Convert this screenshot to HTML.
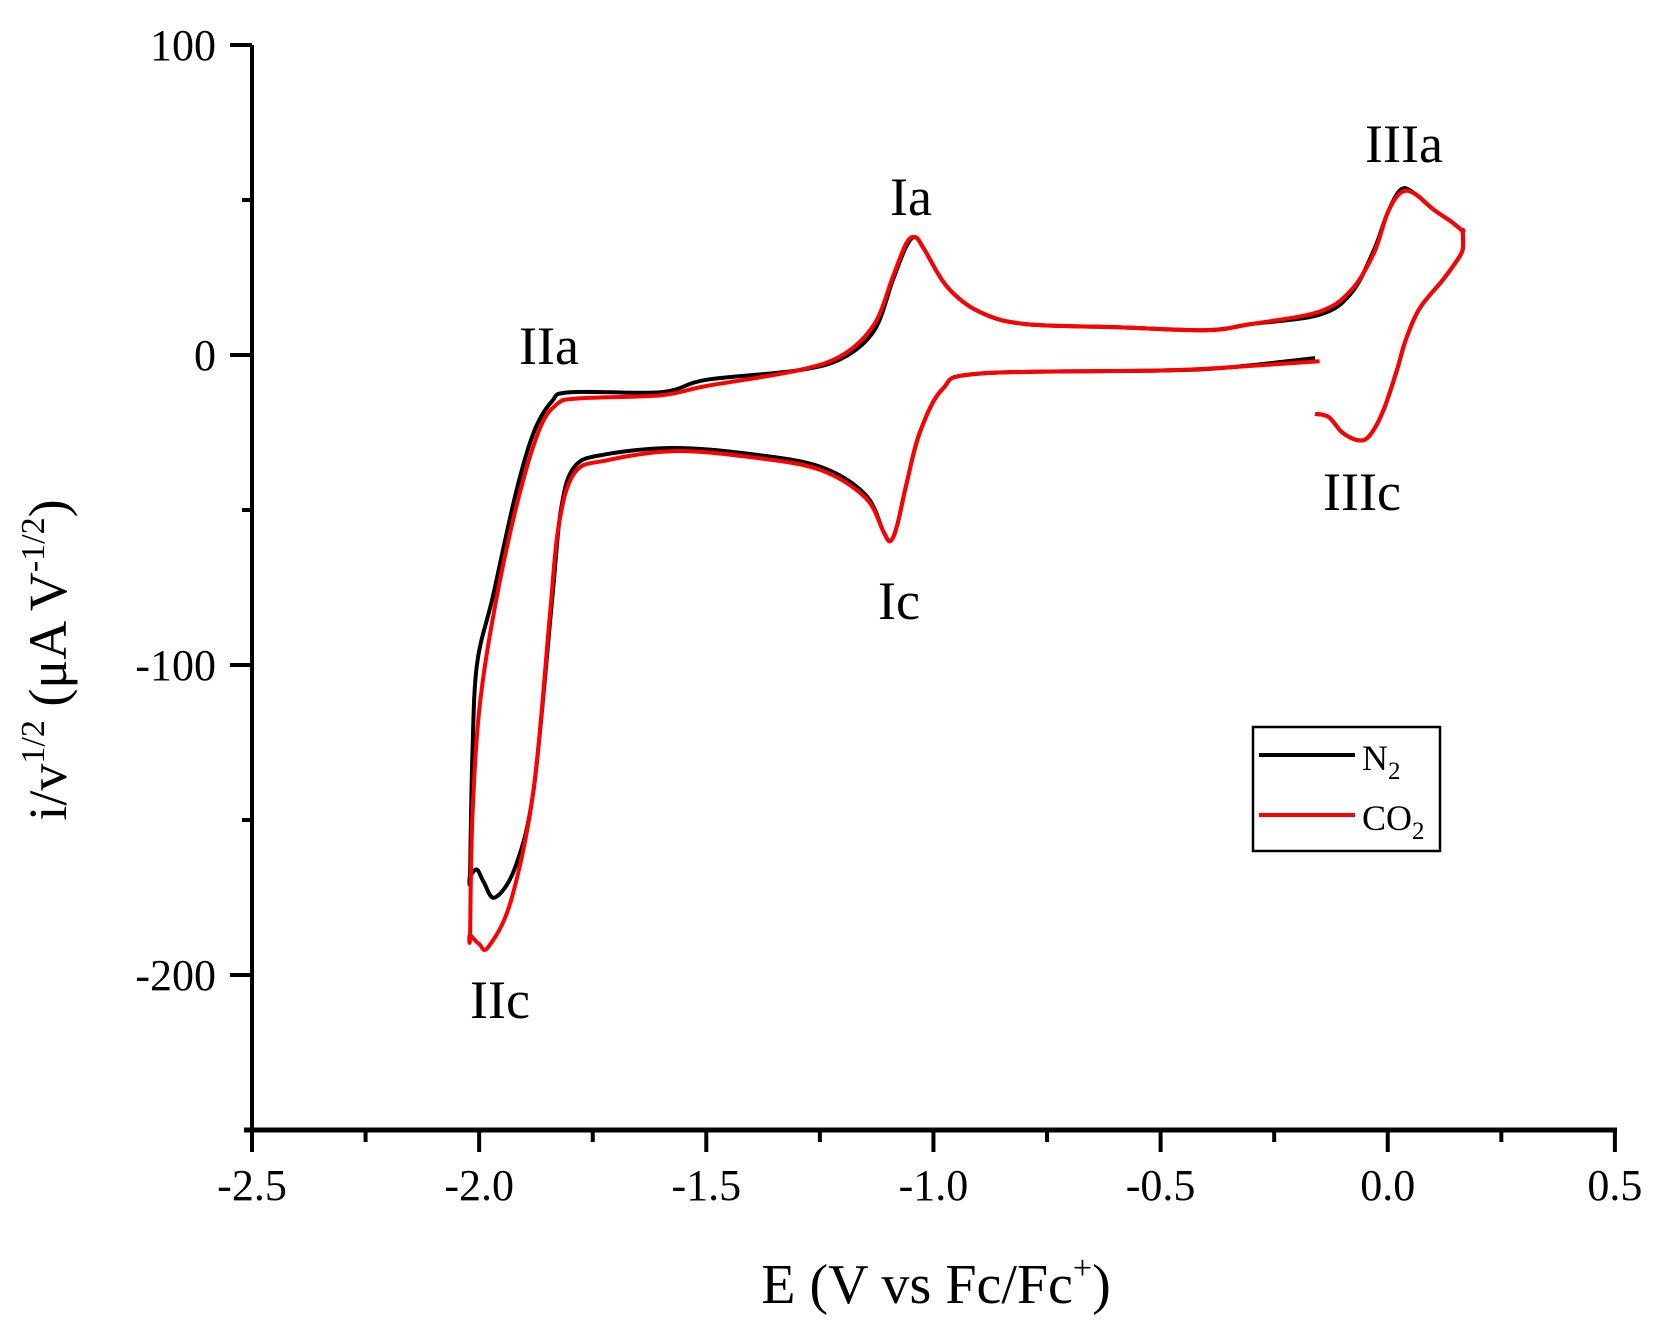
<!DOCTYPE html>
<html><head><meta charset="utf-8"><style>
html,body{margin:0;padding:0;background:#fff;}
svg{display:block;font-family:"Liberation Serif",serif;}
</style></head><body>
<svg id="s" width="1660" height="1330" viewBox="0 0 1660 1330" xmlns="http://www.w3.org/2000/svg">
<rect width="1660" height="1330" fill="#fff"/>
<g id="ticks" stroke="#000" stroke-width="4"></g>
<line x1="252" y1="45" x2="252" y2="1132" stroke="#000" stroke-width="4"/>
<line x1="244" y1="1130" x2="1617" y2="1130" stroke="#000" stroke-width="5"/>
<g font-size="44" text-anchor="end">
<text x="216" y="60">100</text>
<text x="216" y="370">0</text>
<text x="216" y="680">-100</text>
<text x="216" y="990">-200</text>
</g>
<g font-size="44" text-anchor="middle" id="xl"></g>
<text x="936" y="1303" font-size="56" text-anchor="middle">E (V vs Fc/Fc<tspan font-size="34" dy="-24">+</tspan><tspan dy="24">)</tspan></text>
<text transform="translate(66,660) rotate(-90)" font-size="54" text-anchor="middle">i/v<tspan font-size="34" dy="-22">1/2</tspan><tspan dy="22"> (μA V</tspan><tspan font-size="34" dy="-22">-1/2</tspan><tspan dy="22">)</tspan></text>
<g font-size="54" text-anchor="middle">
<text x="549" y="364">IIa</text>
<text x="911" y="215">Ia</text>
<text x="1404" y="162">IIIa</text>
<text x="1362" y="510">IIIc</text>
<text x="899" y="619">Ic</text>
<text x="500" y="1018">IIc</text>
</g>
<path id="n2" fill="none" stroke="#000" stroke-width="4" stroke-linejoin="round"/>
<path id="co" fill="none" stroke="#f00" stroke-width="4" stroke-linejoin="round"/>
<rect x="1253" y="727" width="187" height="124" fill="#fff" stroke="#000" stroke-width="2.5"/>
<line x1="1259" y1="755" x2="1355" y2="755" stroke="#000" stroke-width="4"/>
<line x1="1259" y1="815" x2="1355" y2="815" stroke="#f00" stroke-width="4"/>
<text x="1362" y="770" font-size="36">N<tspan font-size="25" dy="9">2</tspan></text>
<text x="1362" y="830" font-size="36">CO<tspan font-size="25" dy="9">2</tspan></text>
</svg>
<script>
function X(e){return 252+(e+2.5)*454.3;}
function Y(i){return 355-i*3.1;}
function path(pts){
  var p=pts.map(function(a){return [X(a[0]),Y(a[1])];});
  var d="M"+p[0][0].toFixed(1)+","+p[0][1].toFixed(1);
  for(var k=0;k<p.length-1;k++){
    var p0=p[k-1]||p[k],p1=p[k],p2=p[k+1],p3=p[k+2]||p2;
    var c1=[p1[0]+(p2[0]-p0[0])/6,p1[1]+(p2[1]-p0[1])/6];
    var c2=[p2[0]-(p3[0]-p1[0])/6,p2[1]-(p3[1]-p1[1])/6];
    d+=" C"+c1[0].toFixed(1)+","+c1[1].toFixed(1)+" "+c2[0].toFixed(1)+","+c2[1].toFixed(1)+" "+p2[0].toFixed(1)+","+p2[1].toFixed(1);
  }
  return d;
}
var tailR=[[0.0,46],[0.03,53.5],[0.06,52],[0.1,47],[0.14,43],[0.165,40],[0.165,40],[0.165,34],[0.15,30],[0.12,24],[0.07,15],[0.04,5],[0.02,-5],[-0.01,-18],[-0.04,-26],[-0.065,-27.5],[-0.1,-25],[-0.13,-20],[-0.16,-19]];
var n2=[[-0.16,-1],[-0.35,-4],[-0.5,-5],[-0.9,-6],[-0.98,-11],[-1.03,-25],[-1.06,-42],[-1.08,-55],[-1.095,-60],[-1.11,-57],[-1.15,-45],[-1.25,-36],[-1.4,-32],[-1.57,-30],[-1.72,-32],[-1.79,-36],[-1.82,-50],[-1.84,-80],[-1.88,-140],[-1.92,-165],[-1.965,-175],[-1.99,-170],[-2.005,-166],[-2.02,-168],[-2.02,-168],
[-2.015,-130],[-2.005,-100],[-1.97,-78],[-1.92,-45],[-1.88,-25],[-1.84,-15],[-1.8,-12],[-1.6,-12],[-1.5,-8],[-1.3,-5],[-1.2,-1],[-1.13,8],[-1.09,24],[-1.06,35],[-1.04,38],[-1.02,34],[-0.97,22],[-0.9,14],[-0.8,10],[-0.6,9],[-0.4,8],[-0.3,10],[-0.15,13],[-0.08,20],[-0.03,34]].concat(tailR);
var co=[[-0.15,-2],[-0.35,-4],[-0.5,-5],[-0.9,-6],[-0.98,-11],[-1.03,-25],[-1.06,-42],[-1.08,-55],[-1.095,-60],[-1.11,-57],[-1.15,-46],[-1.25,-37],[-1.4,-33],[-1.57,-31],[-1.72,-34],[-1.79,-38],[-1.825,-55],[-1.845,-85],[-1.88,-140],[-1.93,-176],[-1.98,-191],[-2.0,-190],[-2.02,-187],[-2.02,-187],
[-2.015,-150],[-2.0,-115],[-1.97,-85],[-1.92,-50],[-1.87,-25],[-1.83,-16],[-1.78,-14],[-1.6,-13],[-1.5,-10],[-1.3,-5],[-1.2,0],[-1.13,10],[-1.09,25],[-1.06,36],[-1.04,38],[-1.02,34],[-0.97,22],[-0.9,14],[-0.8,10],[-0.6,9],[-0.4,8],[-0.3,10],[-0.15,14],[-0.08,21],[-0.03,33]].concat(tailR.map(function(a){return [a[0],a[1]===53.5?52.5:a[1]];}));
document.getElementById("n2").setAttribute("d",path(n2));
document.getElementById("co").setAttribute("d",path(co));
var t="",xl="";
[100,0,-100,-200].forEach(function(v){t+='<line x1="230" y1="'+Y(v)+'" x2="252" y2="'+Y(v)+'"/>';});
[50,-50,-150].forEach(function(v){t+='<line x1="242" y1="'+Y(v)+'" x2="252" y2="'+Y(v)+'"/>';});
for(var k=0;k<=12;k++){var e=-2.5+k*0.25;var L=(k%2==0)?22:12;t+='<line x1="'+X(e)+'" y1="1130" x2="'+X(e)+'" y2="'+(1130+L)+'"/>';
 if(k%2==0){xl+='<text x="'+X(e)+'" y="1200">'+e.toFixed(1)+'</text>';}}
document.getElementById("ticks").innerHTML=t;
document.getElementById("xl").innerHTML=xl;
</script>
</body></html>
